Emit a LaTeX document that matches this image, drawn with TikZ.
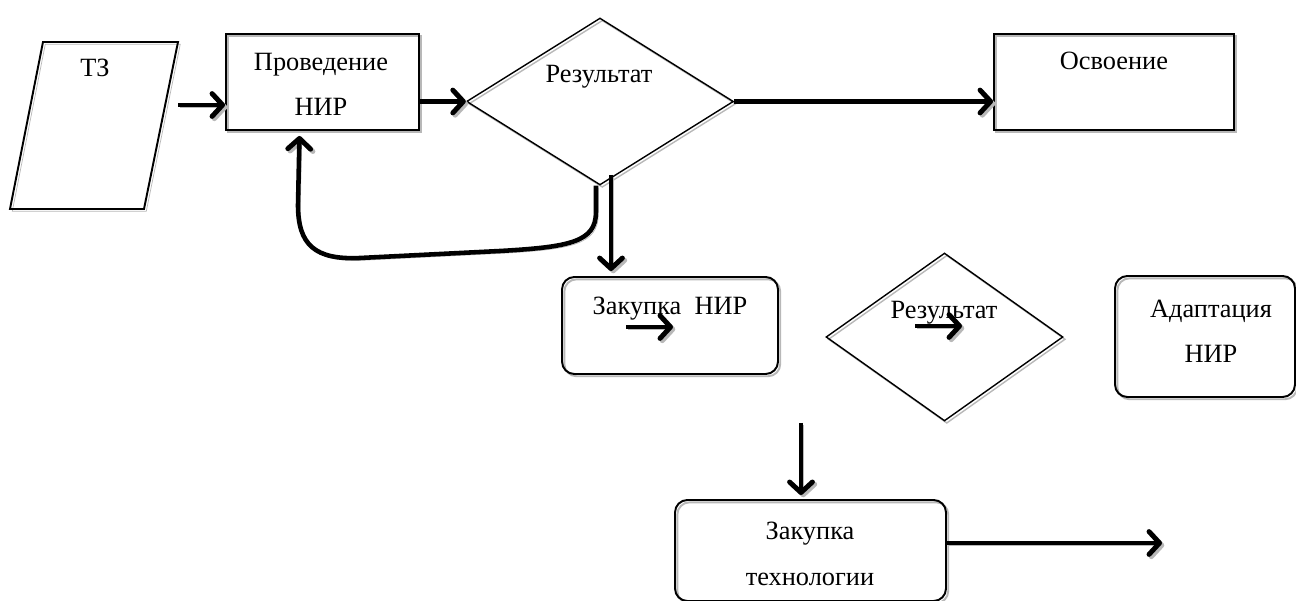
\documentclass[tikz,border=0pt]{standalone}
\usepackage{fontspec}
\setmainfont{Liberation Serif}
\newfontfamily\tnrfont{Liberation Serif}
\usetikzlibrary{arrows.meta,positioning,calc,shapes.geometric}

\begin{document}
\begin{tikzpicture}[x=0.02cm,y=-0.02cm,
  >={Straight Barb[length=6pt,width=13pt,round,line width=2.8pt]},
  softshadow/.style={preaction={draw=black!28,transform canvas={shift={(1.3pt,-1.3pt)}}}},
  block/.style={draw,line width=1.1pt,softshadow,inner sep=0pt},
  rbox/.style={block,rounded corners=7pt},
  decision/.style={draw,line width=.8pt,softshadow,diamond,inner sep=0pt},
  lbl/.style={font=\tnrfont\fontsize{15}{26}\selectfont,align=center,inner sep=0pt,anchor=base},
  flow/.style={->,line width=2.6pt,softshadow}]
\useasboundingbox (0,0) rectangle (1296,601);
% shapes
\draw[block] (43,42) -- (178,42) -- (144,209) -- (10,209) -- cycle;
\node[block,minimum width=3.86cm,minimum height=1.92cm] (nir) at (322.5,82) {};
\node[decision,minimum width=5.34cm,minimum height=3.34cm] (res1) at (600,101.5) {};
\node[block,minimum width=4.8cm,minimum height=1.92cm] (osv) at (1114,82) {};
\node[rbox,minimum width=4.32cm,minimum height=1.94cm] (zn) at (670,325.5) {};
\node[decision,minimum width=4.74cm,minimum height=3.36cm] (res2) at (944.5,337) {};
\node[rbox,minimum width=3.6cm,minimum height=2.42cm] (adapt) at (1205,336.5) {};
\node[rbox,minimum width=5.42cm,minimum height=2.02cm] (zt) at (810.5,550.5) {};
% texts (base = last line)
\node[lbl] (tz-t) at (95,77) {ТЗ};
\node[lbl] (nir-t) at (321,116) {Проведение\\НИР};
\node[lbl] (res1-t) at (599,83) {Результат};
\node[lbl] (osv-t) at (1114,70) {Освоение};
\node[lbl] (zn-t) at (670,315) {Закупка\ \ НИР};
\node[lbl] (res2-t) at (944,319) {Результат};
\node[lbl] (adapt-t) at (1211,363) {Адаптация\\НИР};
\node[lbl] (zt-t) at (810,585) {Закупка\\технологии};
% connectors
\coordinate (tz-r) at (178,105);
\coordinate (res1-d) at (611,175);
\coordinate (zn-a) at (626,327);
\coordinate (zn-b) at (673,327);
\coordinate (res2-a) at (915,326);
\coordinate (res2-b) at (962,326);
\coordinate (zt-a) at (801,423);
\coordinate (zt-b) at (801,495);
\coordinate (zt-e) at (1162,543);
\draw[flow] (tz-r) -- (tz-r -| nir.west);
\draw[flow] (res1.west -| nir.east) -- (res1.west);
\draw[flow] (res1.east) -- (res1.east -| osv.west);
\draw[flow,line width=2.2pt] (res1-d) -- ($(res1-d |- zn.north)+(0,-5)$);
\draw[flow] ($(res1.south)+(-4,0)$) -- (596,212) .. controls (596,242) and (570,247) .. (500,251) -- (360,258) .. controls (315,260) and (298,245) .. (298,205) -- ($(nir.south)+(-23,5)$);
\draw[flow] (zn-a) -- (zn-b);
\draw[flow] (res2-a) -- (res2-b);
\draw[flow,line width=2.2pt] (zt-a) -- (zt-b);
\draw[flow] ($(zt.east)+(0,-7.5)$) -- (zt-e);
\end{tikzpicture}
\end{document}
